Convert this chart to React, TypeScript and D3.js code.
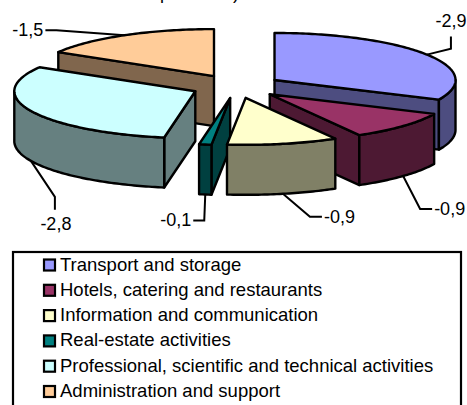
import React from "react";
import * as d3 from "d3";

// Change by activity, percentage points
const categories = [
  "Transport and storage",
  "Hotels, catering and restaurants",
  "Information and communication",
  "Real-estate activities",
  "Professional, scientific and technical activities",
  "Administration and support",
];
const values = [-2.9, -0.9, -0.9, -0.1, -2.8, -1.5];
const topColors = ["#9999ff", "#993366", "#ffffcc", "#008080", "#ccffff", "#ffcc99"];
const wallColors = ["#4d4d80", "#4d1933", "#808066", "#004040", "#668080", "#80664d"];

const width = 467;
const height = 405;
const cx = 236.4;
const cy = 86.3;
const rx = 181;
const ry = 47;
const depth = 50;
const explode = 0.25;
const font = "'Liberation Sans', Arial, sans-serif";

// Painter's order: slices further back first
const paintOrder = [5, 0, 1, 4, 3, 2];

// Leader elbows relative to the slice anchor, and the label position relative to the last bend
const leaders = [
  { bends: [[24, -6], [24, -18]], label: [0, -10], anchor: "middle" },
  { bends: [[17, 33], [29, 33]], label: [2, 6], anchor: "start" },
  { bends: [[27, 23], [39, 23]], label: [2, 6], anchor: "start" },
  { bends: [[-1, 26], [-12, 26]], label: [-2, 6], anchor: "end" },
  { bends: [[24, 36], [24, 49]], label: [1, 20], anchor: "middle" },
  { bends: [[-68, -5], [-79, -5]], label: [-2, 6], anchor: "end" },
];

const fmt = d3.formatLocale({
  decimal: ",",
  thousands: " ",
  grouping: [3],
  currency: ["", ""],
  minus: "-",
}).format(".1f");

const arcs = d3
  .pie<number>()
  .sort(null)
  .value((v) => Math.abs(v))(values);

const project = (angle: number, radius = 1) => [
  radius * rx * Math.sin(angle),
  -radius * ry * Math.cos(angle),
];

const toPath = d3.line<number[]>().x((p) => p[0]).y((p) => p[1]);

function arcPoints(a0: number, a1: number, ox: number, oy: number, dy = 0) {
  const n = Math.max(2, Math.ceil(((a1 - a0) * 180) / Math.PI));
  return d3.range(n + 1).map((i) => {
    const [x, y] = project(a0 + ((a1 - a0) * i) / n);
    return [ox + x, oy + y + dy];
  });
}

const legendY = d3.scalePoint<number>().domain(d3.range(categories.length)).range([264.5, 391]);

const Slice = ({ index }: { index: number }) => {
  const { startAngle: a0, endAngle: a1 } = arcs[index];
  const mid = (a0 + a1) / 2;
  const [ex, ey] = project(mid, explode);
  const ox = cx + ex;
  const oy = cy + ey;
  const stroke = { stroke: "#000", strokeWidth: 2.4, strokeLinejoin: "round" as const };

  const radialWall = (angle: number) => {
    const [x, y] = project(angle);
    const quad = [[ox, oy], [ox + x, oy + y], [ox + x, oy + y + depth], [ox, oy + depth]];
    return toPath(quad) + "Z";
  };

  const frontStart = Math.max(a0, Math.PI / 2);
  const frontEnd = Math.min(a1, (3 * Math.PI) / 2);
  const hasFront = frontEnd > frontStart;
  const top = arcPoints(a0, a1, ox, oy);

  return (
    <g {...stroke}>
      {a0 >= Math.PI && <path d={radialWall(a0)} fill={wallColors[index]} />}
      {a1 <= Math.PI && <path d={radialWall(a1)} fill={wallColors[index]} />}
      {hasFront && (
        <path
          d={
            toPath([
              ...arcPoints(frontStart, frontEnd, ox, oy),
              ...arcPoints(frontStart, frontEnd, ox, oy, depth).reverse(),
            ]) + "Z"
          }
          fill={wallColors[index]}
        />
      )}
      <path d={toPath([[ox, oy], ...top]) + "Z"} fill={topColors[index]} />
    </g>
  );
};

const Leader = ({ index }: { index: number }) => {
  const { startAngle: a0, endAngle: a1 } = arcs[index];
  const mid = (a0 + a1) / 2;
  const [ex, ey] = project(mid, explode);
  const [x, y] = project(mid);
  const front = Math.cos(mid) < 0;
  const ax = cx + ex + x;
  const ay = cy + ey + y + (front ? depth : 0);
  const { bends, label, anchor } = leaders[index];
  const pts = [[ax, ay], ...bends.map(([dx, dy]) => [ax + dx, ay + dy])];
  const last = pts[pts.length - 1];
  return (
    <g>
      <path d={toPath(pts)!} fill="none" stroke="#000" strokeWidth={2} />
      <text
        x={last[0] + label[0]}
        y={last[1] + label[1]}
        textAnchor={anchor as "start" | "middle" | "end"}
        fontSize={18}
        fill="#000"
      >
        {fmt(values[index])}
      </text>
    </g>
  );
};

export default function App() {
  return (
    <svg
      width={width}
      height={height}
      viewBox={`0 0 ${width} ${height}`}
      style={{ position: "fixed", left: 0, top: 0, background: "#fff" }}
      fontFamily={font}
    >
      {/* Title line running off the top edge: only its descenders remain */}
      <text x={160} y={-1} fontSize={18}>p</text>
      <text x={233} y={-1} fontSize={18}>)</text>

      {leaders.map((_, i) => (
        <Leader key={i} index={i} />
      ))}
      {paintOrder.map((i) => (
        <Slice key={i} index={i} />
      ))}

      <rect x={13} y={252} width={448} height={170} fill="none" stroke="#000" strokeWidth={2.2} />
      {categories.map((name, i) => (
        <g key={name}>
          <rect
            x={44}
            y={legendY(i)! - 5}
            width={11}
            height={11}
            fill={topColors[i]}
            stroke="#000"
            strokeWidth={2.2}
          />
          <text x={60} y={legendY(i)! + 6} fontSize={18.5} fill="#000">
            {name}
          </text>
        </g>
      ))}
    </svg>
  );
}
